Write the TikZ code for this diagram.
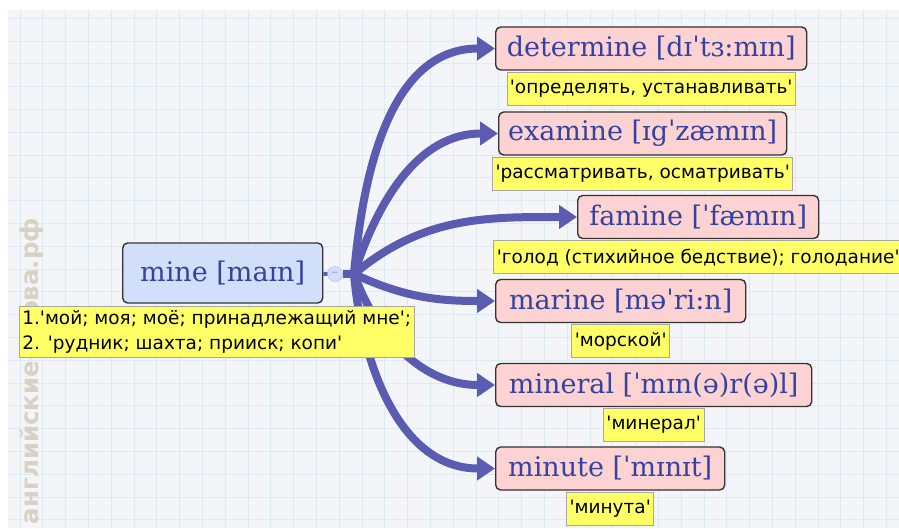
\documentclass[tikz,border=0pt]{standalone}
\usepackage{fontspec}
\usepackage{xcolor}
\usepackage{tikz}
\usetikzlibrary{arrows.meta,positioning}
\newfontfamily\wordfont{DejaVu Serif}
\newfontfamily\notefont{DejaVu Sans}
\definecolor{paper}{HTML}{F3F5F8}
\definecolor{gridblue}{HTML}{DCEAF2}
\definecolor{wordpink}{HTML}{FCD2D2}
\definecolor{rootblue}{HTML}{D2DFFA}
\definecolor{inkblue}{HTML}{3543A0}
\definecolor{noteyellow}{HTML}{FFFF66}
\definecolor{branch}{HTML}{5B5BB2}
\definecolor{stamp}{HTML}{D8D2C2}
\newcommand\qt[1]{\textquotesingle#1\textquotesingle}

\begin{document}
\begin{tikzpicture}[
    x=1pt, y=1pt,
    node distance=1pt,
    word/.style={
      draw=black!80,
      line width=1.4pt,
      fill=wordpink,
      rounded corners=5pt,
      text=inkblue,
      font=\wordfont\fontsize{27}{30}\selectfont,
      minimum height=43pt,
      inner xsep=5pt,
      inner ysep=2pt,
      anchor=west
    },
    note/.style={
      draw=black!35,
      line width=0.8pt,
      fill=noteyellow,
      font=\notefont\fontsize{18.5}{25}\selectfont,
      inner xsep=3pt,
      inner ysep=4pt,
      minimum height=33pt,
      align=left
    },
    flow/.style={draw=branch, line width=8pt, -{Triangle[length=18pt,width=23pt]}},
    gridline/.style={gridblue, line width=0.9pt}
  ]
    \useasboundingbox (0,0) rectangle (899,-528);
    % paper with grid
    \fill[paper] (8,-10) rectangle (899,-528);
    \foreach \i in {0,...,38}
      \draw[gridline] ({20+22.8*\i},-10) -- ({20+22.8*\i},-528);
    \foreach \j in {0,...,22}
      \draw[gridline] (8,{-18.3-22.8*\j}) -- (899,{-18.3-22.8*\j});
    \node[rotate=90, text=stamp, font=\notefont\bfseries\fontsize{24.5}{24}\selectfont] (site) at (32,-371) {английские-слова.рф};

    % root word
    \node[word, fill=rootblue, minimum width=200pt, minimum height=60pt] (mine) at (122,-273) {mine [maɪn]};
    \node[circle, draw=rootblue!80!blue, fill=rootblue, minimum size=15pt, inner sep=0pt,
      text=inkblue!60, font=\notefont\fontsize{9}{9}\selectfont] (fold) at (335,-274) {−};
    \coordinate (hub) at (354,-274);

    % related words
    \node[word, minimum width=311pt] (det) at (495,-48.5) {determine [dɪˈtɜ:mɪn]};
    \node[word, minimum width=288pt] (exa) at (498,-133.5) {examine [ɪgˈzæmɪn]};
    \node[word, minimum width=241pt] (fam) at (577,-217) {famine [ˈfæmɪn]};
    \node[word, minimum width=250pt] (mar) at (495,-301) {marine [məˈri:n]};
    \node[word, minimum width=316pt] (minr) at (495,-385) {mineral [ˈmɪn(ə)r(ə)l]};
    \node[word, minimum width=229pt] (minu) at (495,-468.5) {minute [ˈmɪnɪt]};

    \draw[branch, line width=4pt] (mine) -- (fold);
    \draw[branch, line width=8pt] (fold) -- (hub);
    \draw[flow] (hub) to[out=85, in=180] (det.west);
    \draw[flow] (hub) to[out=72, in=180] (exa.west);
    \draw[flow] (hub) to[out=40, in=180] (fam.west);
    \draw[flow] (hub) to[out=-25, in=180] (mar.west);
    \draw[flow] (hub) to[out=-70, in=180] (minr.west);
    \draw[flow] (hub) to[out=-85, in=180] (minu.west);

    % translations
    \node[note, below=2pt of mine, xshift=-6pt] (mineT) {1.\qt{мой; моя; моё; принадлежащий мне};\\2. \qt{рудник; шахта; прииск; копи}};
    \node[note, below=of det] (detT) {\qt{определять, устанавливать}};
    \node[note, below=of exa] (exaT) {\qt{рассматривать, осматривать}};
    \node[note, below=of fam] (famT) {\qt{голод (стихийное бедствие); голодание}};
    \node[note, below=of mar] (marT) {\qt{морской}};
    \node[note, below=of minr] (minrT) {\qt{минерал}};
    \node[note, below=of minu] (minuT) {\qt{минута}};
  \end{tikzpicture}
\end{document}
